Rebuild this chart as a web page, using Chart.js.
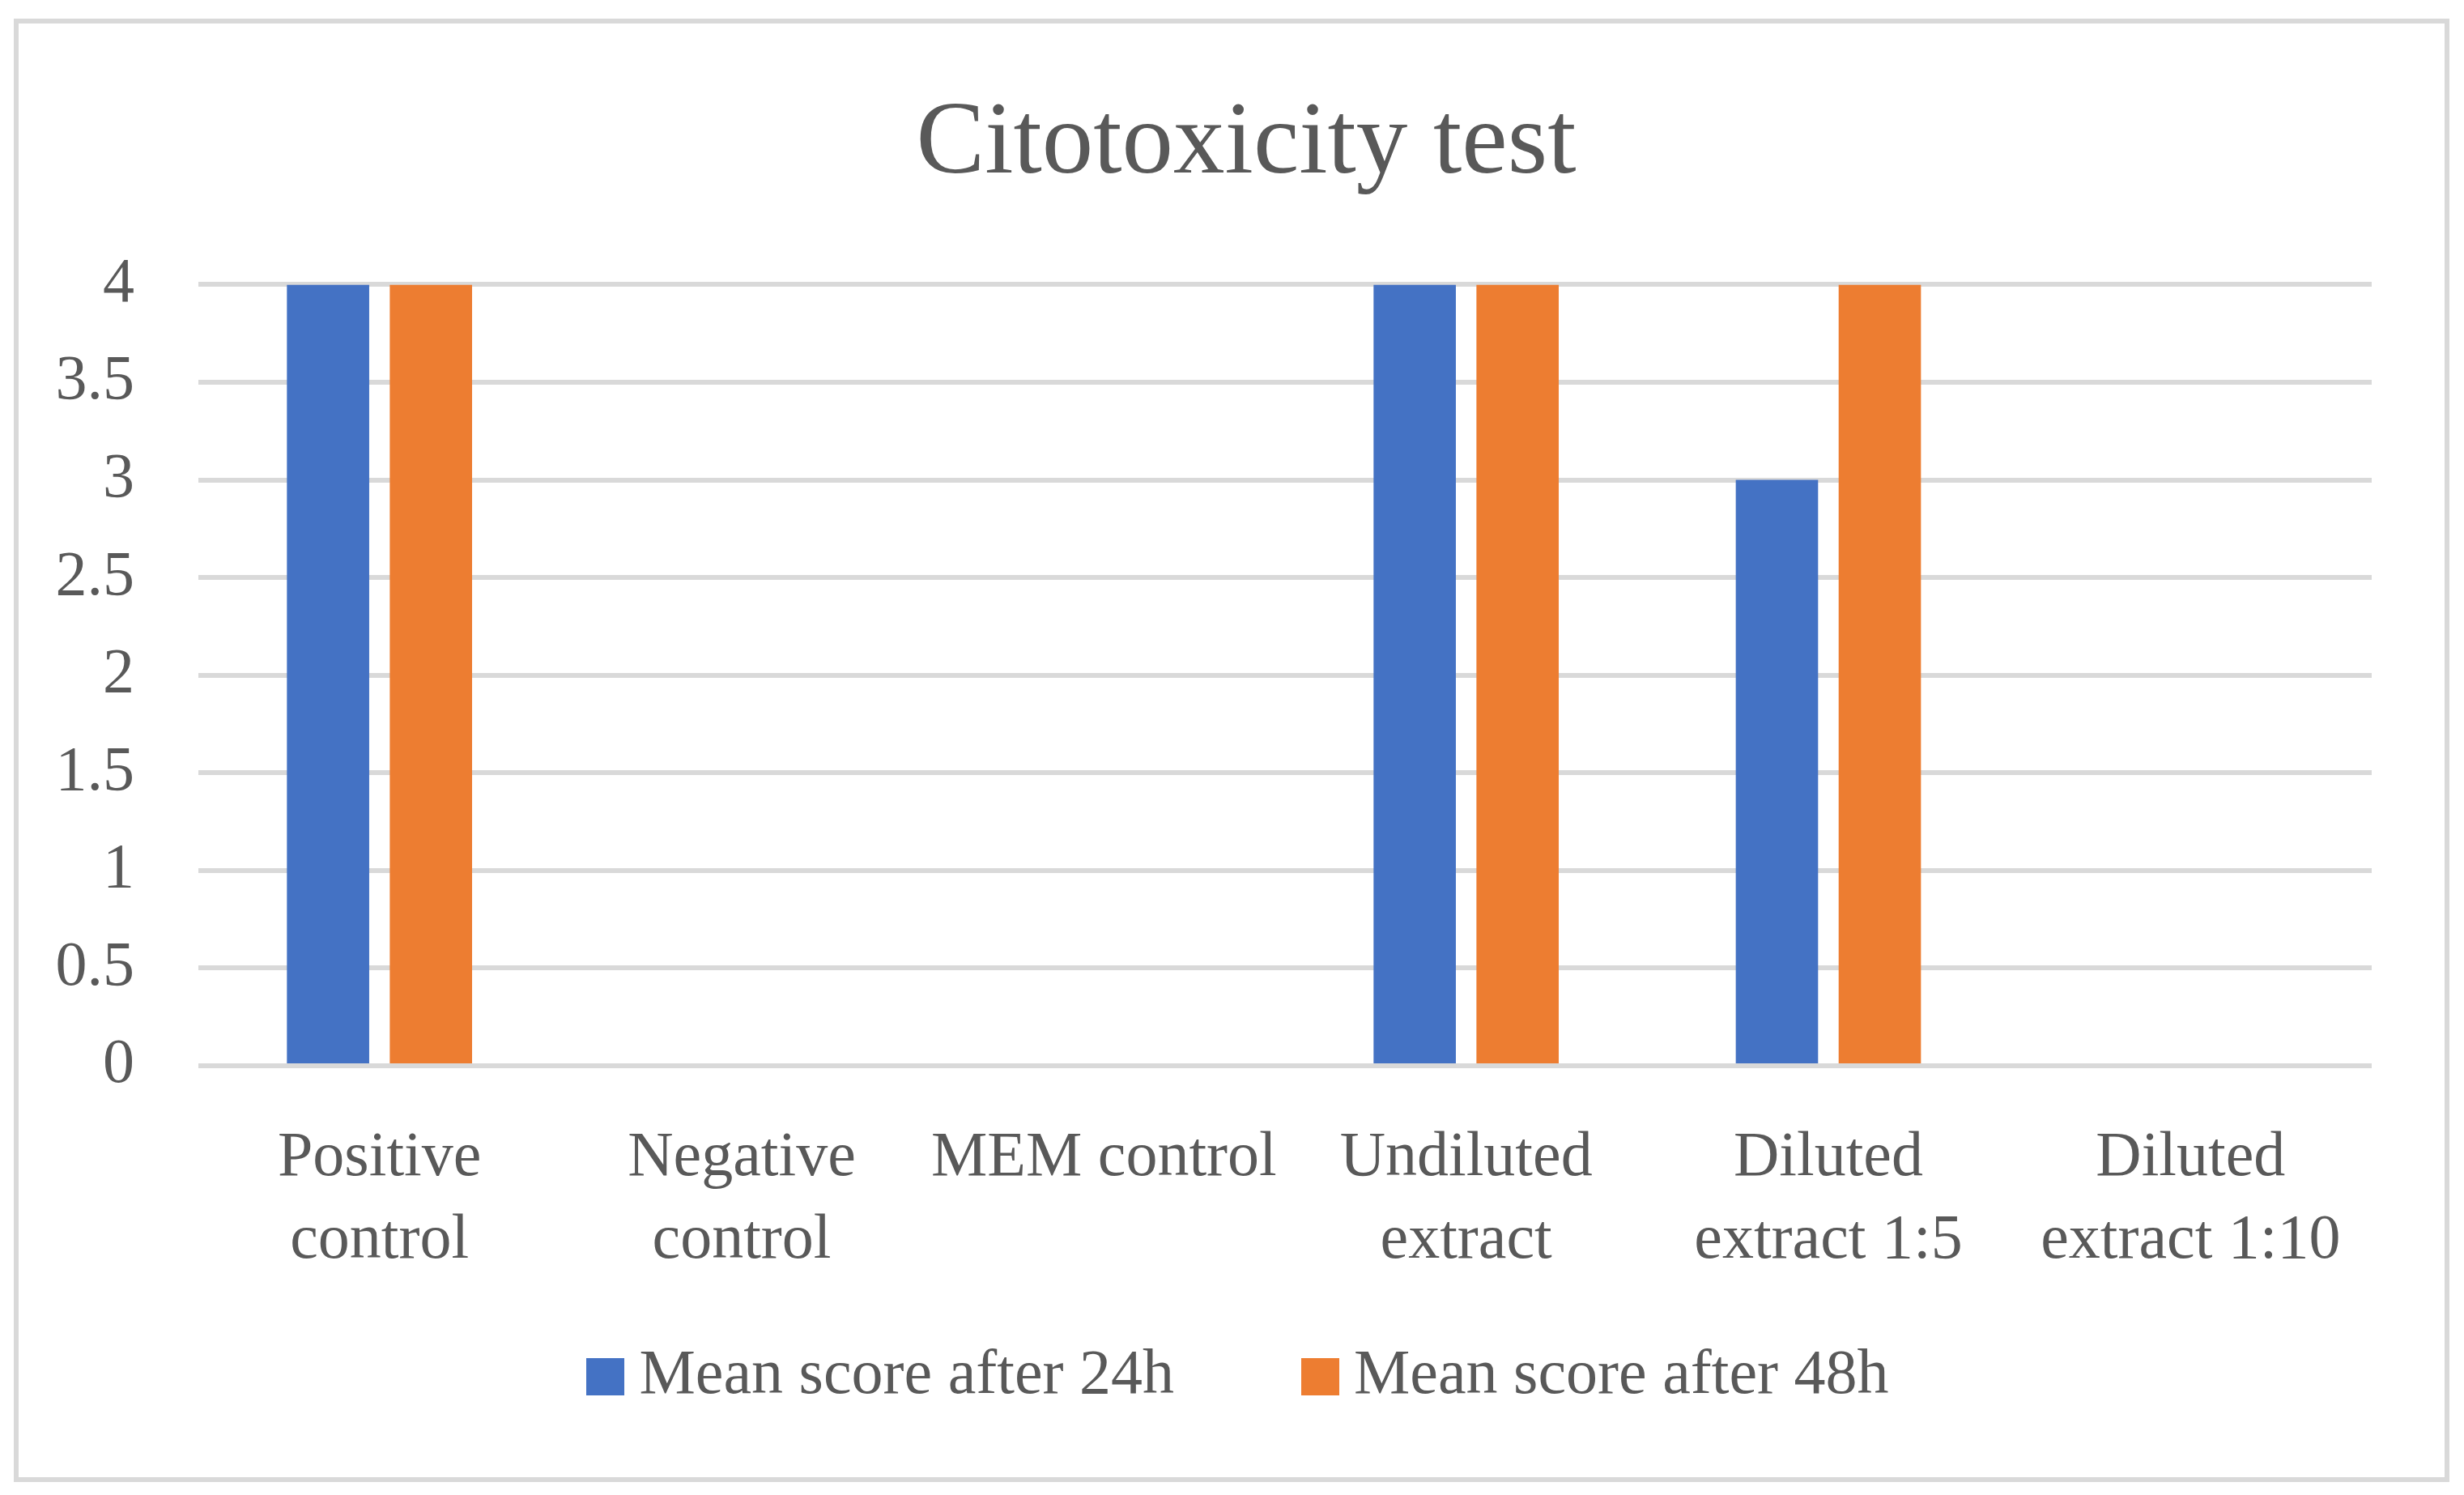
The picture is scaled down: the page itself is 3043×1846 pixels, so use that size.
<!DOCTYPE html>
<html>
<head>
<meta charset="utf-8">
<script src="https://cdn.jsdelivr.net/npm/chart.js@4.4.1/dist/chart.umd.min.js"></script>
<style>
  html, body { margin: 0; padding: 0; background: #fff; overflow: hidden; }
  canvas { display: block; }
</style>
</head>
<body>
<canvas id="chart" width="3043" height="1846"></canvas>
<script>
// data
const categories = [
  ["Positive", "control"],
  ["Negative", "control"],
  "MEM control",
  ["Undiluted", "extract"],
  ["Diluted", "extract 1:5"],
  ["Diluted", "extract 1:10"]
];
const score24h = [4, 0, 0, 4, 3, 0];
const score48h = [4, 0, 0, 4, 4, 0];
const seriesNames = ["Mean score after 24h", "Mean score after 48h"];
const seriesColors = ["#4472c4", "#ed7d31"];
const yMin = 0, yMax = 4, yStep = 0.5;

const FONT = "'Liberation Serif', 'Times New Roman', serif";
const TEXT = "#595959";
const GRID = "#d9d9d9";

// square legend swatches, drawn as point styles so the text sits close to them
function swatch(color) {
  const c = document.createElement("canvas");
  c.width = 47; c.height = 46;
  const g = c.getContext("2d");
  g.fillStyle = color;
  g.fillRect(0, 0, 47, 46);
  return c;
}
const swatches = seriesColors.map(swatch);

// outer frame round the whole chart
const frame = {
  id: "frame",
  beforeDraw(chart) {
    const ctx = chart.ctx;
    ctx.save();
    ctx.fillStyle = "#fff";
    ctx.fillRect(0, 0, chart.width, chart.height);
    ctx.strokeStyle = GRID;
    ctx.lineWidth = 6;
    ctx.strokeRect(20, 26, 3002, 1801);
    ctx.restore();
  }
};

// labels may reach outside their scale box
const noClip = scale => { scale._computeLabelArea = () => undefined; };

new Chart(document.getElementById("chart"), {
  type: "bar",
  data: {
    labels: categories,
    datasets: [
      { label: seriesNames[0], data: score24h, backgroundColor: seriesColors[0] },
      { label: seriesNames[1], data: score48h, backgroundColor: seriesColors[1] }
    ]
  },
  options: {
    responsive: false,
    devicePixelRatio: 1,
    animation: false,
    layout: { padding: { left: 149, right: 114, top: 0, bottom: 97 } },
    datasets: { bar: { categoryPercentage: 0.568, barPercentage: 0.8, borderWidth: 0 } },
    plugins: {
      title: {
        display: true,
        text: "Citotoxicity test",
        color: TEXT,
        font: { family: FONT, size: 127, weight: "normal", lineHeight: 1.2 },
        padding: { top: 103, bottom: 96 }
      },
      legend: {
        position: "bottom",
        labels: {
          color: TEXT,
          font: { family: FONT, size: 78 },
          usePointStyle: true,
          boxWidth: 5,
          boxHeight: 46,
          padding: 178,
          generateLabels(chart) {
            const items = Chart.defaults.plugins.legend.labels.generateLabels(chart);
            items.forEach((it, i) => { it.pointStyle = swatches[i]; });
            return items;
          }
        }
      },
      tooltip: { enabled: false }
    },
    scales: {
      x: {
        grid: { display: false },
        border: { display: false },
        ticks: {
          color: TEXT,
          font: { family: FONT, size: 78, lineHeight: 1.3 },
          padding: 56,
          maxRotation: 0,
          autoSkip: false
        },
        afterFit(scale) { scale.height = 167; noClip(scale); }
      },
      y: {
        min: yMin,
        max: yMax,
        grid: { color: GRID, lineWidth: 6, drawTicks: false },
        border: { display: false },
        ticks: {
          stepSize: yStep,
          color: TEXT,
          font: { family: FONT, size: 78 },
          padding: 79,
          callback: v => String(v)
        },
        afterFit(scale) { scale.width = 96; noClip(scale); }
      }
    }
  },
  plugins: [frame]
});
</script>
</body>
</html>
